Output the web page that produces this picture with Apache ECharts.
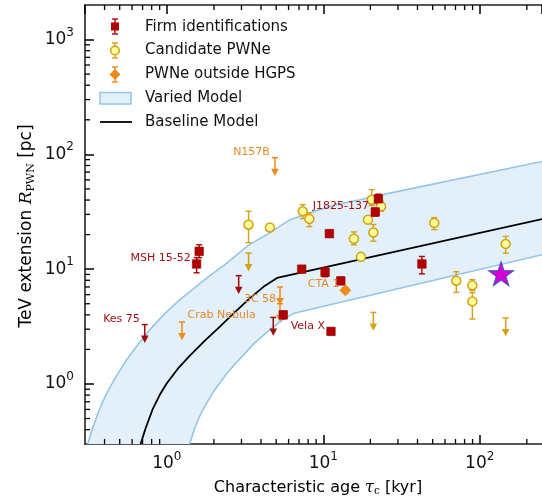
<!DOCTYPE html>
<html><head><meta charset="utf-8">
<script src="https://cdn.jsdelivr.net/npm/echarts@6/dist/echarts.min.js"></script>
<style>html,body{margin:0;padding:0;background:#fff}#c{width:542px;height:498px}</style>
</head><body><div id="c"></div>
<script>
// ---------- data (tau_c [kyr], R_PWN [pc], errLow, errHigh) ----------
const xMin = 0.3, xMax = 250, yMin = 0.3, yMax = 2000;

const firmIds = [
  [1.61, 14.3, 12.6, 16.3], [1.55, 11.1, 9.3, 12.6], [7.28, 10.0, 9.5, 10.6],
  [10.27, 9.4, 8.6, 10.3], [12.94, 7.9, 7.4, 8.5], [42.7, 11.1, 9.1, 12.9],
  [10.94, 20.4, 19.2, 21.8], [5.55, 4.0, 3.7, 4.3], [11.2, 2.87, 2.7, 3.05],
  [22.5, 41.0, 37.0, 45.0], [21.5, 31.5, 29.0, 34.0]
];
const firmUpperLimits = [[0.723, 3.29], [2.88, 8.78], [4.79, 3.80]];

const candidates = [
  [3.33, 24.4, 17.0, 31.9], [4.56, 23.1, 22.0, 24.3], [7.39, 31.9, 27.6, 36.5],
  [8.15, 27.4, 23.5, 31.0], [20.4, 40.3, 35.8, 49.3], [23.4, 35.2, 32.0, 39.0],
  [19.3, 27.0, 25.5, 28.5], [20.9, 20.9, 17.5, 24.5], [15.7, 18.4, 16.3, 21.1],
  [17.4, 12.8, 11.9, 13.7], [51.2, 25.3, 22.1, 28.1], [70.8, 7.94, 6.28, 9.5],
  [89.7, 7.23, 6.5, 8.1], [89.7, 5.24, 3.68, 6.24], [146.5, 16.6, 13.8, 19.3]
];
const candidateUpperLimits = [[3.33, 13.8], [20.9, 4.2], [146.5, 3.76]];

const outsideHGPS = [[13.85, 6.54, 6.2, 6.9]];
const outsideUpperLimits = [[4.91, 93.6], [1.25, 3.47], [5.29, 7.0], [5.29, 5.0]];

const starPoint = [[136.9, 9.14]];

const baselineModel = [
  [0.68, 0.3], [0.734, 0.416], [0.814, 0.608], [0.902, 0.805], [1.0, 1.016],
  [1.176, 1.359], [1.404, 1.764], [1.751, 2.384], [2.184, 3.156], [2.725, 4.221],
  [3.40, 5.59], [4.241, 7.182], [5.062, 8.381], [250, 27.3]
];
const variedUpper = [
  [0.312, 0.3], [0.336, 0.416], [0.362, 0.551], [0.389, 0.701], [0.432, 0.929],
  [0.486, 1.229], [0.554, 1.628], [0.652, 2.20], [0.778, 2.972], [0.971, 4.097],
  [1.211, 5.424], [1.511, 6.901], [1.885, 8.777], [2.351, 10.94], [3.30, 16.02],
  [4.564, 20.8], [6.131, 26.99], [8.233, 31.06], [11.9, 36.47], [17.2, 40.3],
  [23.1, 44.13], [250, 86.8]
];
const variedLower = [
  [1.40, 0.3], [1.511, 0.416], [1.627, 0.53], [1.804, 0.687], [2.029, 0.892],
  [2.422, 1.242], [2.934, 1.661], [3.659, 2.29], [4.564, 2.972], [5.529, 3.632],
  [6.503, 4.137], [250, 13.35]
];

const annotationText = ['N157B', 'J1825-137', 'MSH 15-52', 'Kes 75', 'Crab Nebula', '3C 58', 'CTA 1', 'Vela X'];
const annotationPos = [[4.56, 105.6], [8.57, 35.7], [1.42, 12.5], [0.672, 3.68], [1.357, 3.94], [3.11, 5.5], [7.96, 7.43], [6.19, 3.18]];
const annotationAlign = ['right', 'left', 'right', 'right', 'left', 'left', 'left', 'left'];
const annotationKind = ['o', 'r', 'r', 'r', 'o', 'o', 'o', 'r'];

const xMinorTicks = [0.4,0.5,0.6,0.7,0.8,0.9,2,3,4,5,6,7,8,9,20,30,40,50,60,70,80,90,200];
const yMinorTicks = [0.4,0.5,0.6,0.7,0.8,0.9,2,3,4,5,6,7,8,9,20,30,40,50,60,70,80,90,200,300,400,500,600,700,800,900];

// ---------- styles ----------
const C_FIRM = '#b00000', C_FIRM_TXT = '#a01212';
const C_CAND = '#d4a017', C_CAND_FILL = '#ffff99';
const C_OUT = '#ee8a1a', C_OUT_TXT = '#e38a2c';
const BAND_FILL = '#e3eff9', BAND_EDGE = '#93c6e6';
const FONT = 'DejaVu Sans';
const TICK = '#000';

function errRender(color) {
  return function (params, api) {
    const x = api.value(0), lo = api.value(2), hi = api.value(3);
    const a = api.coord([x, hi]), b = api.coord([x, lo]);
    const st = { stroke: color, lineWidth: 1.4 };
    return { type: 'group', children: [
      { type: 'line', shape: { x1: a[0], y1: a[1], x2: b[0], y2: b[1] }, style: st },
      { type: 'line', shape: { x1: a[0] - 3, y1: a[1], x2: a[0] + 3, y2: a[1] }, style: st },
      { type: 'line', shape: { x1: b[0] - 3, y1: b[1], x2: b[0] + 3, y2: b[1] }, style: st }
    ] };
  };
}
function ulRender(color) {
  return function (params, api) {
    const p = api.coord([api.value(0), api.value(1)]);
    const st = { stroke: color, lineWidth: 1.5 };
    return { type: 'group', children: [
      { type: 'line', shape: { x1: p[0] - 3, y1: p[1], x2: p[0] + 3, y2: p[1] }, style: st },
      { type: 'line', shape: { x1: p[0], y1: p[1], x2: p[0], y2: p[1] + 12 }, style: st },
      { type: 'polygon', shape: { points: [[p[0] - 3.8, p[1] + 11], [p[0] + 3.8, p[1] + 11], [p[0], p[1] + 18.3]] }, style: { fill: color } }
    ] };
  };
}
const isPow10 = v => Math.abs(Math.log10(v) - Math.round(Math.log10(v))) < 1e-6;
const powLabel = v => isPow10(v) ? '{b|10}{s|' + Math.round(Math.log10(v)) + '}' : '';
const labelRich = {
  b: { fontSize: 17, fontFamily: FONT, color: '#111' },
  s: { fontSize: 12, fontFamily: FONT, color: '#111', padding: [0, 0, 14, 0] }
};
const axisLineStyle = { color: '#222', width: 1.6 };
const majorTick = { show: true, inside: true, length: 9, lineStyle: { color: TICK, width: 1.5 } };

const chart = echarts.init(document.getElementById('c'));
chart.setOption({
  animation: false,
  backgroundColor: '#fff',
  grid: { left: 85, right: 0, top: 5, bottom: 54, outerBoundsMode: 'none' },
  xAxis: [
    { type: 'log', min: xMin, max: xMax, position: 'bottom',
      axisLine: { show: true, lineStyle: axisLineStyle }, axisTick: majorTick,
      axisLabel: { formatter: powLabel, rich: labelRich, margin: 7, showMinLabel: false, showMaxLabel: false },
      splitLine: { show: false } },
    { type: 'log', min: xMin, max: xMax, position: 'top',
      axisLine: { show: true, lineStyle: axisLineStyle }, axisTick: majorTick,
      axisLabel: { show: false }, splitLine: { show: false } }
  ],
  yAxis: { type: 'log', min: yMin, max: yMax,
    axisLine: { show: true, lineStyle: axisLineStyle }, axisTick: majorTick,
    axisLabel: { formatter: powLabel, rich: labelRich, margin: 11, showMinLabel: false, showMaxLabel: false },
    splitLine: { show: false } },
  series: [
    { type: 'custom', z: 1, silent: true, data: [[1, 1]], encode: { x: 0, y: 1 },
      renderItem: (params, api) => {
        const pts = variedUpper.map(p => api.coord(p)).concat(variedLower.slice().reverse().map(p => api.coord(p)));
        return { type: 'polygon', shape: { points: pts }, style: { fill: BAND_FILL } };
      } },
    { type: 'line', z: 2, data: variedUpper, symbol: 'none', clip: true, lineStyle: { color: BAND_EDGE, width: 1.6 } },
    { type: 'line', z: 2, data: variedLower, symbol: 'none', clip: true, lineStyle: { color: BAND_EDGE, width: 1.6 } },
    { type: 'line', z: 3, data: baselineModel, symbol: 'none', clip: true, lineStyle: { color: '#000', width: 1.8 } },
    // minor ticks
    { type: 'custom', z: 5, silent: true, data: xMinorTicks.map(v => [v, yMin]), encode: { x: 0, y: 1 },
      renderItem: (params, api) => {
        const b = api.coord([api.value(0), yMin]), t = api.coord([api.value(0), yMax]);
        const st = { stroke: TICK, lineWidth: 1.3 };
        return { type: 'group', children: [
          { type: 'line', shape: { x1: b[0], y1: b[1], x2: b[0], y2: b[1] - 5 }, style: st },
          { type: 'line', shape: { x1: t[0], y1: t[1], x2: t[0], y2: t[1] + 5 }, style: st }
        ] };
      } },
    { type: 'custom', z: 5, silent: true, data: yMinorTicks.map(v => [xMin, v]), encode: { x: 0, y: 1 },
      renderItem: (params, api) => {
        const p = api.coord([xMin, api.value(1)]);
        return { type: 'line', shape: { x1: p[0], y1: p[1], x2: p[0] + 5, y2: p[1] }, style: { stroke: TICK, lineWidth: 1.3 } };
      } },
    // error bars
    { type: 'custom', z: 6, data: candidates, encode: { x: 0, y: 1 }, renderItem: errRender(C_CAND) },
    { type: 'custom', z: 6, data: firmIds, encode: { x: 0, y: 1 }, renderItem: errRender(C_FIRM) },
    { type: 'custom', z: 6, data: outsideHGPS, encode: { x: 0, y: 1 }, renderItem: errRender(C_OUT) },
    { type: 'custom', z: 6, data: candidateUpperLimits, encode: { x: 0, y: 1 }, renderItem: ulRender(C_CAND) },
    { type: 'custom', z: 6, data: outsideUpperLimits, encode: { x: 0, y: 1 }, renderItem: ulRender(C_OUT) },
    { type: 'custom', z: 6, data: firmUpperLimits, encode: { x: 0, y: 1 }, renderItem: ulRender('#a00a0a') },
    // markers
    { type: 'scatter', z: 7, data: candidates.map(d => [d[0], d[1]]), symbol: 'circle', symbolSize: 9,
      itemStyle: { color: C_CAND_FILL, borderColor: C_CAND, borderWidth: 1.5, opacity: 1 } },
    { type: 'scatter', z: 7, data: firmIds.map(d => [d[0], d[1]]), symbol: 'rect', symbolSize: 8.5,
      itemStyle: { color: C_FIRM, borderColor: '#900000', borderWidth: 0.6, opacity: 1 } },
    { type: 'scatter', z: 7, data: outsideHGPS.map(d => [d[0], d[1]]), symbol: 'diamond', symbolSize: 11,
      itemStyle: { color: C_OUT, borderColor: '#e07a10', borderWidth: 0.6, opacity: 1 } },
    { type: 'scatter', z: 8, data: starPoint,
      symbol: 'path://M50,0 L61.8,35.1 L98.9,35.1 L68.9,56.9 L80.3,92.1 L50,70.4 L19.7,92.1 L31.1,56.9 L1.1,35.1 L38.2,35.1 Z',
      symbolSize: [25, 24], itemStyle: { color: '#d400d4', borderColor: '#3a55c0', borderWidth: 1, opacity: 1 } },
    // annotations
    { type: 'custom', z: 9, silent: true, data: annotationPos.map((p, i) => [p[0], p[1], i]), encode: { x: 0, y: 1 },
      renderItem: (params, api) => {
        const i = api.value(2);
        const p = api.coord([api.value(0), api.value(1)]);
        return { type: 'text', x: p[0], y: p[1], style: {
          text: annotationText[i], fill: annotationKind[i] === 'r' ? C_FIRM_TXT : C_OUT_TXT,
          font: '11px ' + FONT, align: annotationAlign[i], textAlign: annotationAlign[i],
          verticalAlign: 'middle', textVerticalAlign: 'middle' } };
      } }
  ],
  graphic: [
    // legend: firm
    { type: 'line', shape: { x1: 115, y1: 19, x2: 115, y2: 34 }, style: { stroke: C_FIRM, lineWidth: 1.4 } },
    { type: 'line', shape: { x1: 112, y1: 19, x2: 118, y2: 19 }, style: { stroke: C_FIRM, lineWidth: 1.4 } },
    { type: 'line', shape: { x1: 112, y1: 34, x2: 118, y2: 34 }, style: { stroke: C_FIRM, lineWidth: 1.4 } },
    { type: 'rect', shape: { x: 111, y: 22.5, width: 8, height: 8 }, style: { fill: C_FIRM } },
    // legend: candidate
    { type: 'line', shape: { x1: 115, y1: 43, x2: 115, y2: 58 }, style: { stroke: C_CAND, lineWidth: 1.4 } },
    { type: 'line', shape: { x1: 112, y1: 43, x2: 118, y2: 43 }, style: { stroke: C_CAND, lineWidth: 1.4 } },
    { type: 'line', shape: { x1: 112, y1: 58, x2: 118, y2: 58 }, style: { stroke: C_CAND, lineWidth: 1.4 } },
    { type: 'circle', shape: { cx: 115, cy: 50.5, r: 4.3 }, style: { fill: C_CAND_FILL, stroke: C_CAND, lineWidth: 1.5 } },
    // legend: outside HGPS
    { type: 'line', shape: { x1: 115, y1: 67, x2: 115, y2: 82 }, style: { stroke: C_OUT, lineWidth: 1.4 } },
    { type: 'line', shape: { x1: 112, y1: 67, x2: 118, y2: 67 }, style: { stroke: C_OUT, lineWidth: 1.4 } },
    { type: 'line', shape: { x1: 112, y1: 82, x2: 118, y2: 82 }, style: { stroke: C_OUT, lineWidth: 1.4 } },
    { type: 'polygon', shape: { points: [[115, 69], [120.5, 74.5], [115, 80], [109.5, 74.5]] }, style: { fill: C_OUT } },
    // legend: band
    { type: 'rect', shape: { x: 100, y: 92.5, width: 31, height: 11.5 }, style: { fill: BAND_FILL, stroke: BAND_EDGE, lineWidth: 1.5 } },
    // legend: baseline
    { type: 'line', shape: { x1: 100, y1: 122, x2: 132, y2: 122 }, style: { stroke: '#000', lineWidth: 1.8 } },
    { type: 'text', x: 145, y: 27, style: { text: 'Firm identifications', font: '15px ' + FONT, fill: '#111', verticalAlign: 'middle', textVerticalAlign: 'middle' } },
    { type: 'text', x: 145, y: 50.5, style: { text: 'Candidate PWNe', font: '15px ' + FONT, fill: '#111', verticalAlign: 'middle', textVerticalAlign: 'middle' } },
    { type: 'text', x: 145, y: 74.5, style: { text: 'PWNe outside HGPS', font: '15px ' + FONT, fill: '#111', verticalAlign: 'middle', textVerticalAlign: 'middle' } },
    { type: 'text', x: 145, y: 98, style: { text: 'Varied Model', font: '15px ' + FONT, fill: '#111', verticalAlign: 'middle', textVerticalAlign: 'middle' } },
    { type: 'text', x: 145, y: 122, style: { text: 'Baseline Model', font: '15px ' + FONT, fill: '#111', verticalAlign: 'middle', textVerticalAlign: 'middle' } },
    // axis titles
    { type: 'text', x: 318, y: 488, style: {
        text: '{n|Characteristic age }{t|τ}{sub|c}{n| [kyr]}', align: 'center', textAlign: 'center', verticalAlign: 'middle', textVerticalAlign: 'middle',
        rich: { n: { fontSize: 16, fontFamily: FONT, color: '#111' },
                t: { fontSize: 16, fontFamily: 'DejaVu Serif', fontStyle: 'italic', color: '#111' },
                sub: { fontSize: 10.5, fontFamily: 'DejaVu Serif', color: '#111', padding: [7, 0, 0, 0] } } } },
    { type: 'text', x: 27, y: 226, rotation: Math.PI / 2, style: {
        text: '{n|TeV extension }{r|R}{sub|PWN}{n| [pc]}', align: 'center', textAlign: 'center', verticalAlign: 'middle', textVerticalAlign: 'middle',
        rich: { n: { fontSize: 17, fontFamily: FONT, color: '#111' },
                r: { fontSize: 17, fontFamily: 'DejaVu Serif', fontStyle: 'italic', color: '#111' },
                sub: { fontSize: 11, fontFamily: 'DejaVu Serif', color: '#111', padding: [8, 0, 0, 0] } } } }
  ]
});
</script>
</body></html>
